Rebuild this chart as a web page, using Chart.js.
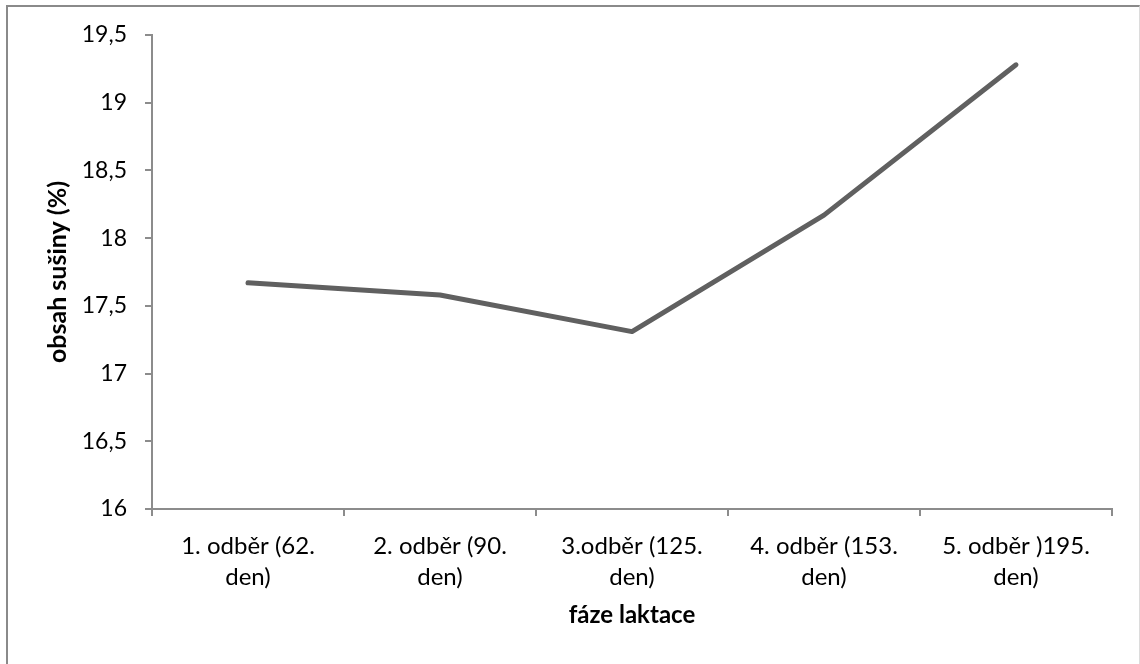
<!DOCTYPE html>
<html lang="cs">
<head>
    <meta charset="UTF-8">
    <title>Obsah sušiny v průběhu laktace</title>
    <script src="https://cdn.jsdelivr.net/npm/chart.js"></script>
    <style>
        body {
            margin: 0;
            padding: 0;
            background: #ffffff;
            overflow: hidden;
        }

        /* frame around the chart object */
        .frame {
            position: absolute;
            left: 6px;
            top: 5px;
            width: 1131px;
            height: 680px;
            border: 2px solid #8a8a8a;
            border-right: 1px solid #dcdcdc;
        }

        .chart-box {
            position: absolute;
            left: 0;
            top: 0;
            width: 1140px;
            height: 664px;
        }
    </style>
</head>
<body>
    <div class="frame"></div>
    <div class="chart-box">
        <canvas id="susinaChart" width="1140" height="664"></canvas>
    </div>

    <script>
        // odběry vzorků (dvouřádkové popisky)
        const odbery = [
            ['1. odběr (62.', 'den)'],
            ['2. odběr (90.', 'den)'],
            ['3.odběr (125.', 'den)'],
            ['4. odběr (153.', 'den)'],
            ['5. odběr )195.', 'den)']
        ];

        // obsah sušiny v %
        const susina = [17.67, 17.58, 17.31, 18.17, 19.28];

        const osaYMin = 16;
        const osaYMax = 19.5;
        const osaYKrok = 0.5;

        const axisColor = '#8c8c8c';
        const textFont = 'Lato, "Open Sans", sans-serif';

        const ctx = document.getElementById('susinaChart').getContext('2d');
        new Chart(ctx, {
            type: 'line',
            data: {
                labels: odbery,
                datasets: [{
                    label: 'obsah sušiny (%)',
                    data: susina,
                    borderColor: '#606060',
                    borderWidth: 5,
                    borderCapStyle: 'round',
                    borderJoinStyle: 'round',
                    pointRadius: 0,
                    tension: 0,
                    fill: false
                }]
            },
            options: {
                responsive: false,
                animation: false,
                layout: {
                    padding: { top: 35, right: 28, left: 0, bottom: 0 }
                },
                plugins: {
                    legend: { display: false },
                    tooltip: { enabled: false }
                },
                scales: {
                    x: {
                        offset: true,
                        grid: {
                            offset: true,
                            drawOnChartArea: false,
                            drawTicks: true,
                            tickLength: 7,
                            color: axisColor,
                            lineWidth: 2
                        },
                        border: { color: axisColor, width: 2 },
                        ticks: {
                            color: '#000000',
                            font: { family: textFont, size: 24, lineHeight: 1.29 },
                            padding: 15,
                            maxRotation: 0,
                            autoSkip: false
                        },
                        title: {
                            display: true,
                            text: 'fáze laktace',
                            color: '#000000',
                            font: { family: textFont, size: 24, weight: 'bold' },
                            padding: { top: 0, bottom: 34 }
                        },
                        afterFit: (scale) => { scale.height = 155; }
                    },
                    y: {
                        min: osaYMin,
                        max: osaYMax,
                        grid: {
                            drawOnChartArea: false,
                            drawTicks: true,
                            tickLength: 7,
                            color: axisColor,
                            lineWidth: 2
                        },
                        border: { color: axisColor, width: 2 },
                        ticks: {
                            stepSize: osaYKrok,
                            color: '#000000',
                            font: { family: textFont, size: 23 },
                            padding: 18,
                            callback: (v) => String(v).replace('.', ',')
                        },
                        title: {
                            display: true,
                            text: 'obsah sušiny (%)',
                            color: '#000000',
                            font: { family: textFont, size: 25, weight: 'bold' },
                            padding: { top: 43, bottom: 0 }
                        },
                        afterFit: (scale) => { scale.width = 152; }
                    }
                }
            }
        });
    </script>
</body>
</html>
